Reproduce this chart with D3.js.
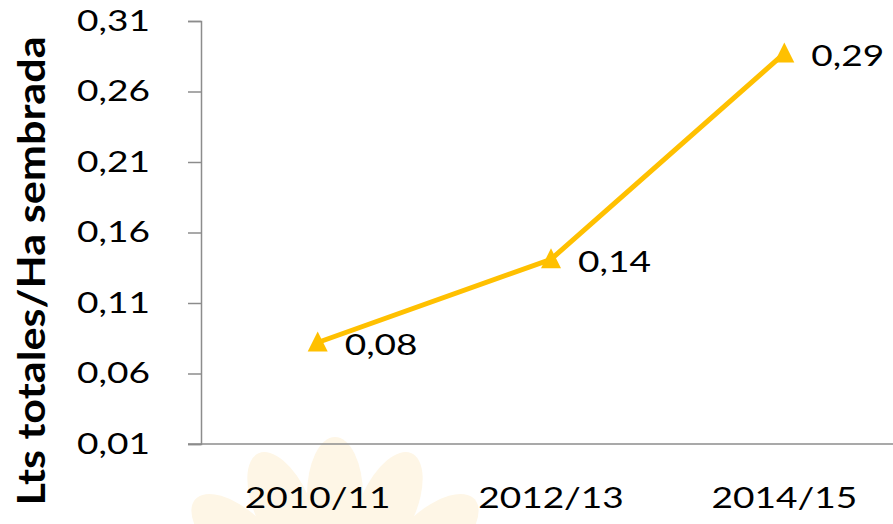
<!DOCTYPE html>
<html>
<head>
<meta charset="utf-8">
<script src="https://cdn.jsdelivr.net/npm/d3@7"></script>
<style>
  body { margin: 0; background: #fff; }
  text { font-family: Lato, "Open Sans", sans-serif; }
</style>
</head>
<body>
<div id="chart"></div>
<script>
// données
const campagnes = ["2010/11", "2012/13", "2014/15"];
const valeurs = [0.082, 0.141, 0.287];
const etiquettes = ["0,08", "0,14", "0,29"];
const yTicks = [0.01, 0.06, 0.11, 0.16, 0.21, 0.26, 0.31];

const W = 893, H = 524;
const margin = { top: 21, left: 201 };
const height = 444 - margin.top;
const etire = 1.3; // le texte de l'original est étiré horizontalement

const svg = d3.select("#chart").append("svg")
  .attr("width", W).attr("height", H);

// filigrane (soleil pâle en bas)
const soleil = svg.append("g").attr("transform", "translate(335,625)");
[-72, -48, -24, 0, 24, 48, 72].forEach(a => {
  soleil.append("ellipse")
    .attr("cx", 0).attr("cy", -130)
    .attr("rx", 28).attr("ry", 58)
    .attr("transform", `rotate(${a})`)
    .attr("fill", "#fef6e6");
});

const chart = svg.append("g").attr("transform", `translate(${margin.left},${margin.top})`);

const y = d3.scaleLinear().domain([0.01, 0.31]).range([height, 0]);
const x = d3.scaleBand().domain(campagnes).range([0, 700]);

// axe y
const yAxis = chart.append("g")
  .call(d3.axisLeft(y).tickValues(yTicks).tickSize(13)
    .tickFormat(d => d3.format(".2f")(d).replace(".", ",")));
yAxis.select(".domain").attr("stroke", "#8c8c8c").attr("stroke-width", 1.5);
yAxis.selectAll(".tick line").attr("stroke", "#8c8c8c").attr("stroke-width", 1.5);
yAxis.selectAll("text")
  .attr("x", 0)
  .attr("transform", `translate(-51,0) scale(${etire},1)`)
  .attr("font-size", 28.5).attr("fill", "#000")
  .style("font-family", "Lato, sans-serif");

// axe x
const xAxis = chart.append("g")
  .attr("transform", `translate(0,${height})`)
  .call(d3.axisBottom(x).tickSize(0));
xAxis.select(".domain").attr("d", `M-13,0H${W}`).attr("stroke", "#8c8c8c").attr("stroke-width", 1.5);
xAxis.selectAll("text")
  .attr("y", 0).attr("dy", 0)
  .attr("transform", `translate(0,64) scale(${etire},1)`)
  .attr("font-size", 28.5).attr("fill", "#000")
  .style("font-family", "Lato, sans-serif");

// titre axe y
svg.append("text")
  .attr("transform", "translate(45,271) rotate(-90) scale(1.44,1.3)")
  .attr("text-anchor", "middle")
  .attr("font-size", 30)
  .attr("font-weight", "bold")
  .text("Lts totales/Ha sembrada");

// ligne
const points = campagnes.map((c, i) => ({ c, v: valeurs[i], lab: etiquettes[i] }));
const cx = d => x(d.c) + x.bandwidth() / 2;
const line = d3.line()
  .x(cx)
  .y(d => y(d.v));

chart.append("path")
  .datum(points)
  .attr("fill", "none")
  .attr("stroke", "#ffc000")
  .attr("stroke-width", 5)
  .attr("stroke-linejoin", "round")
  .attr("d", line);

chart.selectAll(".marker")
  .data(points)
  .enter()
  .append("path")
  .attr("class", "marker")
  .attr("transform", d => `translate(${cx(d)},${y(d.v)})`)
  .attr("d", "M0,-11L10,9L-10,9Z")
  .attr("fill", "#ffc000");

chart.selectAll(".lab")
  .data(points)
  .enter()
  .append("text")
  .attr("class", "lab")
  .attr("transform", d => `translate(${cx(d) + 27},${y(d.v) + 13}) scale(${etire},1)`)
  .attr("font-size", 28.5)
  .text(d => d.lab);
</script>
</body>
</html>
